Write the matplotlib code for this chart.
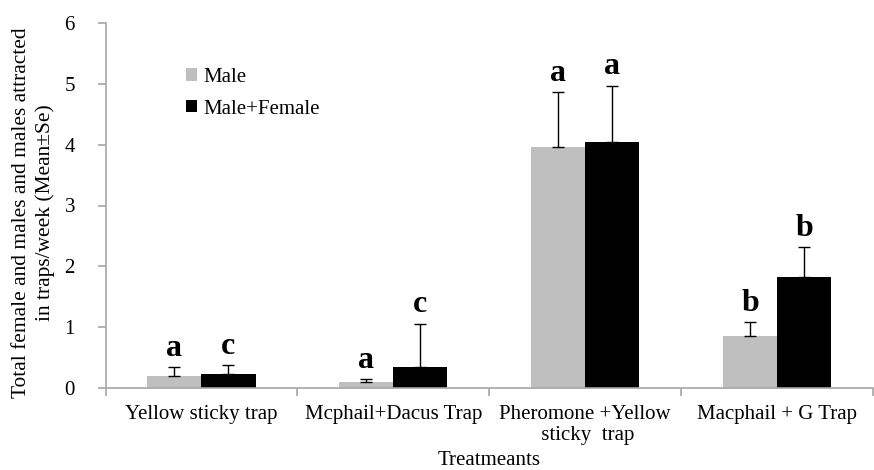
import numpy as np
import matplotlib.pyplot as plt

plt.rcParams['font.family'] = ['Liberation Serif', 'DejaVu Serif']

# data
treatments = ['Yellow sticky trap', 'Mcphail+Dacus Trap',
              'Pheromone +Yellow\n sticky  trap', 'Macphail + G Trap']
male = [0.20, 0.10, 3.96, 0.86]
male_se = [0.14, 0.04, 0.90, 0.22]
male_female = [0.23, 0.35, 4.04, 1.83]
male_female_se = [0.15, 0.71, 0.93, 0.48]
male_letters = ['a', 'a', 'a', 'b']
mf_letters = ['c', 'c', 'a', 'b']

axis_gray = '#a6a6a6'
x = np.arange(len(treatments))
w = 0.282

fig = plt.figure(figsize=(8.74, 4.70), dpi=100)
ax = fig.add_axes([105.5 / 874, 82 / 470, (873 - 105.5) / 874, 365 / 470])

b1 = ax.bar(x - w / 2, male, w, color='#bfbfbf', label='Male', zorder=2)
b2 = ax.bar(x + w / 2, male_female, w, color='black', label='Male+Female', zorder=2)
ax.errorbar(x - w / 2, male, yerr=[np.zeros(4), male_se], fmt='none',
            ecolor='black', elinewidth=1, capsize=4.3, capthick=1, zorder=3)
ax.errorbar(x + w / 2, male_female, yerr=[np.zeros(4), male_female_se], fmt='none',
            ecolor='black', elinewidth=1, capsize=4.3, capthick=1, zorder=3)

for i in range(len(x)):
    ax.annotate(male_letters[i], (x[i] - w / 2, male[i] + male_se[i]),
                xytext=(0, 3), textcoords='offset points', ha='center', va='bottom',
                fontsize=23, fontweight='bold')
    ax.annotate(mf_letters[i], (x[i] + w / 2, male_female[i] + male_female_se[i]),
                xytext=(0, 3), textcoords='offset points', ha='center', va='bottom',
                fontsize=23, fontweight='bold')

ax.set_xlim(-0.5, 3.44)
ax.set_ylim(0, 6)
ax.set_yticks(range(7))
ax.set_xticks(x)
ax.set_xticklabels(treatments)
ax.set_xticks(np.arange(-0.5, 3.6, 1), minor=True)
ax.tick_params(axis='x', which='major', length=0, pad=12, labelsize=15)
ax.tick_params(axis='x', which='minor', length=6, color=axis_gray, width=1.2)
ax.tick_params(axis='y', length=6, color=axis_gray, width=1.2, pad=16, labelsize=15)

for s in ['top', 'right']:
    ax.spines[s].set_visible(False)
for s in ['left', 'bottom']:
    ax.spines[s].set_color(axis_gray)
    ax.spines[s].set_linewidth(1.2)

ax.set_xlabel('Treatmeants', fontsize=15, labelpad=4)
ax.set_ylabel('Total female and males and males attracted\nin traps/week (Mean\u00b1Se)',
              fontsize=15.4, linespacing=1.3)
ax.yaxis.set_label_coords(-0.066, 0.48)

ax.legend(frameon=False, fontsize=15, loc='upper left',
          bbox_to_anchor=(186 / 874, 1 - 68 / 470), bbox_transform=fig.transFigure,
          handlelength=0.55, handleheight=0.55, handletextpad=0.3,
          labelspacing=0.6, borderpad=0, borderaxespad=0)

fig.savefig('out.png', dpi=100)
